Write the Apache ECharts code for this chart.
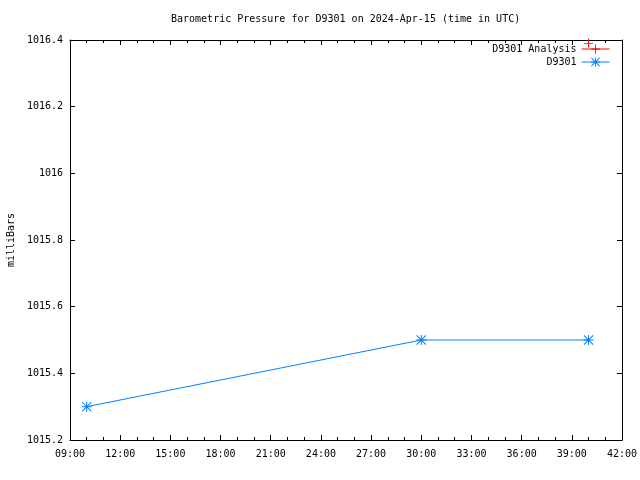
<!DOCTYPE html>
<html><head><meta charset="utf-8">
<script src="https://cdn.jsdelivr.net/npm/echarts@6/dist/echarts.min.js"></script>
<style>html,body{margin:0;padding:0;background:#fff}#c{width:640px;height:480px}</style>
</head><body><div id="c"></div>
<script>
var titleText = 'Barometric Pressure for D9301 on 2024-Apr-15 (time in UTC)';
var yAxisName = 'milliBars';
var seriesNames = ['D9301 Analysis', 'D9301'];
var obsTimes = [10, 30, 40];
var obsPressure = [1015.3, 1015.5, 1015.5];
var anaTimes = [40];
var anaPressure = [1016.39];
var xMin = 9, xMax = 42, xStep = 3;
var yMin = 1015.2, yMax = 1016.4, yStep = 0.2;

var FONT = 'DejaVu Sans Mono';
var star = 'path://M0,4.5h10v1h-10z M4.5,0h1v10h-1z M0,0.7L0.7,0L10,9.3L9.3,10z M9.3,0L10,0.7L0.7,10L0,9.3z';
var plus = 'path://M0,4.5h10v1h-10z M4.5,0h1v10h-1z';

function pair(xs, ys){ return xs.map(function(x,i){ return [x, ys[i]]; }); }
function fmtX(v){ var s = String(Math.round(v)); if (s.length < 2) s = '0' + s; return s + ':00'; }
function fmtY(v){ return String(parseFloat(v.toFixed(4))); }

var chart = echarts.init(document.getElementById('c'), null, {renderer:'canvas'});
var legendBase = { right: 30, padding: 0, itemWidth: 28, itemHeight: 11, align: 'right', itemGap: 0,
  lineStyle: { width: 1 }, selectedMode: false,
  textStyle: { fontFamily: FONT, fontSize: 10, color: '#000' } };
chart.setOption({
  animation: false,
  backgroundColor: '#fff',
  title: { text: titleText, left: 171, top: 14, padding: 0,
    textStyle: { fontFamily: FONT, fontSize: 10, fontWeight: 'normal', color: '#000' } },
  grid: { left: 70, right: 18, top: 40, bottom: 40, show: false, containLabel: false, outerBoundsMode: 'none' },
  legend: [
    Object.assign({}, legendBase, { data: [seriesNames[0]], top: 44 }),
    Object.assign({}, legendBase, { data: [seriesNames[1]], top: 57 })
  ],
  xAxis: [
    { type: 'value', position: 'bottom', min: xMin, max: xMax, interval: xStep,
      axisLine: { show: true, onZero: false, lineStyle: { color: '#000', width: 1 } },
      axisTick: { show: true, inside: true, length: 5, lineStyle: { color: '#000' } },
      minorTick: { show: true, splitNumber: 3, length: 3, lineStyle: { color: '#000' } },
      axisLabel: { formatter: fmtX, margin: 9, color: '#000', fontFamily: FONT, fontSize: 10 },
      splitLine: { show: false } },
    { type: 'value', position: 'top', min: xMin, max: xMax, interval: xStep,
      axisLine: { show: true, onZero: false, lineStyle: { color: '#000', width: 1 } },
      axisTick: { show: true, inside: true, length: 5, lineStyle: { color: '#000' } },
      minorTick: { show: true, splitNumber: 3, length: 3, lineStyle: { color: '#000' } },
      axisLabel: { show: false }, splitLine: { show: false } }
  ],
  yAxis: [
    { type: 'value', position: 'left', min: yMin, max: yMax, interval: yStep,
      name: yAxisName, nameLocation: 'middle', nameGap: 53, nameRotate: 90,
      nameTextStyle: { fontFamily: FONT, fontSize: 10, color: '#000' },
      axisLine: { show: true, onZero: false, lineStyle: { color: '#000', width: 1 } },
      axisTick: { show: true, inside: true, length: 5, lineStyle: { color: '#000' } },
      axisLabel: { formatter: fmtY, margin: 7, color: '#000', fontFamily: FONT, fontSize: 10 },
      splitLine: { show: false } },
    { type: 'value', position: 'right', min: yMin, max: yMax, interval: yStep,
      axisLine: { show: true, onZero: false, lineStyle: { color: '#000', width: 1 } },
      axisTick: { show: true, inside: true, length: 5, lineStyle: { color: '#000' } },
      axisLabel: { show: false }, splitLine: { show: false } }
  ],
  series: [
    { name: seriesNames[0], type: 'line', data: pair(anaTimes, anaPressure),
      symbol: plus, symbolSize: 9, color: '#ff0000',
      itemStyle: { color: '#ff0000' }, lineStyle: { color: '#ff0000', width: 1 } },
    { name: seriesNames[1], type: 'line', data: pair(obsTimes, obsPressure),
      symbol: star, symbolSize: 10, color: '#0080ff',
      itemStyle: { color: '#0080ff' }, lineStyle: { color: '#0080ff', width: 1 } }
  ]
});
</script></body></html>
